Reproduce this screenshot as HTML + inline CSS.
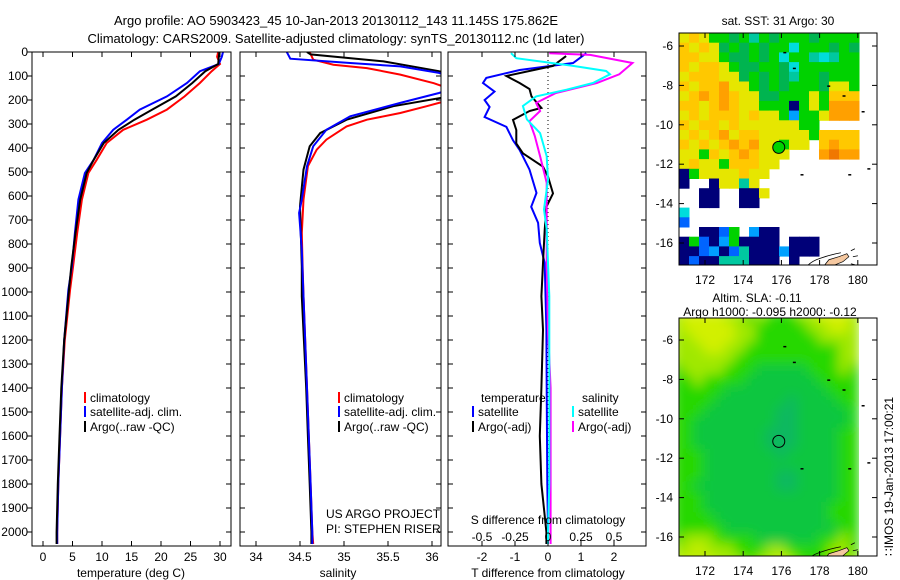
<!DOCTYPE html>
<html><head><meta charset="utf-8">
<style>
html,body{margin:0;padding:0;background:#fff;}
svg{display:block;font-family:"Liberation Sans",sans-serif;}
text{font-size:12px;fill:#000;}
</style></head>
<body>
<svg id="fig" width="900" height="580" viewBox="0 0 900 580">
<rect width="900" height="580" fill="#fff"/>
<text x="336" y="25" text-anchor="middle" style="font-size:13px">Argo profile: AO 5903423_45 10-Jan-2013 20130112_143 11.145S 175.862E</text>
<text x="336" y="43" text-anchor="middle" style="font-size:13px">Climatology: CARS2009. Satellite-adjusted climatology: synTS_20130112.nc (1d later)</text>
<defs>
<clipPath id="c1"><rect x="32" y="52" width="199" height="494"/></clipPath>
<clipPath id="c2"><rect x="240" y="52" width="201" height="494"/></clipPath>
<clipPath id="c3"><rect x="448" y="52" width="198" height="494"/></clipPath>
<clipPath id="cm1"><rect x="679" y="33" width="198" height="232"/></clipPath>
<clipPath id="cm2"><rect x="679" y="318" width="198" height="238"/></clipPath>
<clipPath id="cd2"><rect x="679" y="318" width="180" height="238"/></clipPath>
<filter id="blur" x="-5%" y="-5%" width="110%" height="110%"><feGaussianBlur stdDeviation="6"/></filter>
</defs>
<g id="layer"></g>
</svg>
<script>
// ---------- data ----------
const depthsT = [0,20,50,80,129,185,240,282,324,379,449,504,615,754,893,990,1200,1400,1600,1800,2000,2050];
const tempClim = [29.7,29.5,30.0,28.6,26.6,24.0,21.0,17.6,13.6,10.8,9.1,7.7,6.6,5.8,5.1,4.6,3.7,3.2,2.9,2.6,2.4,2.4];
const tempSat  = [30.5,30.3,29.8,26.6,24.4,21.0,16.4,14.2,11.9,10.0,8.6,7.1,6.0,5.4,4.9,4.3,3.6,3.2,2.9,2.6,2.4,2.4];
const tempArgo = [29.9,29.8,29.7,27.5,25.3,22.5,18.5,15.5,12.8,10.3,8.6,7.4,6.3,5.5,4.8,4.4,3.6,3.1,2.8,2.5,2.3,2.3];

const depthsSc = [0,32,53,67,94,130,165,200,226,254,282,310,365,407,476,615,754,893,1018,1400,1600,1800,2000,2050];
const salClim  = [34.61,34.65,34.88,35.26,35.64,36.02,36.3,36.2,35.94,35.64,35.26,35.03,34.80,34.69,34.59,34.54,34.52,34.53,34.54,34.58,34.60,34.62,34.64,34.65];
const depthsSs = [0,28,46,60,87,130,171,212,268,324,393,476,615,671,823,1018,1400,1600,1800,2000,2050];
const salSat   = [34.35,34.39,35.07,35.64,36.08,36.4,36.08,35.64,35.07,34.80,34.65,34.58,34.52,34.49,34.52,34.54,34.58,34.60,34.62,34.64,34.64];
const depthsSa = [0,10,39,80,130,185,226,282,338,393,490,643,893,1018,1400,1600,1800,2000,2050];
const salArgo  = [34.58,34.62,35.45,36.08,36.5,36.2,35.56,35.03,34.73,34.61,34.54,34.50,34.52,34.52,34.57,34.59,34.61,34.63,34.63];

const depthsDTs = [5,46,75,108,129,165,200,229,271,312,368,408,490,587,645,712,796,879,1158,1400,1600,1800,2000,2050];
const dTsat     = [1.16,0.76,-0.86,-1.87,-1.97,-1.62,-1.92,-1.77,-1.92,-1.26,-1.06,-0.86,-0.56,-0.35,-0.51,-0.30,-0.25,-0.10,-0.05,-0.04,-0.03,-0.02,0.0,0.0];
const depthsDTa = [17,58,100,129,154,185,233,246,283,325,381,422,478,519,589,645,742,879,1018,1158,1400,1600,1800,2000,2050];
const dTargo    = [0.55,0.15,-1.26,-0.86,-0.56,-0.5,-0.2,-0.56,-1.06,-0.96,-0.96,-0.76,-0.15,0.0,0.15,-0.05,-0.10,-0.15,-0.2,-0.15,-0.2,-0.25,-0.2,-0.05,-0.05];
const depthsDSs = [5,26,58,79,93,129,157,185,225,281,338,434,532,656,740,1018,1158,1400,1600,1800,2000,2050];
const dSsat     = [-0.28,-0.24,0.19,0.44,0.47,0.34,0.14,-0.09,-0.19,-0.16,-0.06,-0.01,0.0,-0.03,-0.01,0.01,0.01,0.01,0.01,0.01,0.0,0.0];
const depthsDSa = [5,12,46,93,129,171,212,246,288,350,434,545,629,879,1158,1400,1600,1800,2000,2050];
const dSargo    = [0.01,0.32,0.64,0.54,0.37,0.06,-0.09,-0.06,-0.14,-0.10,-0.06,-0.01,-0.01,-0.01,0.0,0.02,0.02,0.02,0.02,0.02];

const depthTicks = [0,100,200,300,400,500,600,700,800,900,1000,1100,1200,1300,1400,1500,1600,1700,1800,1900,2000];
const tempTicks = [0,5,10,15,20,25,30];
const salTicks = [34,34.5,35,35.5,36];
const salTickLabels = ["34","34.5","35","35.5","36"];
const dTTicks = [-2,-1,0,1,2];
const dSTicks = [-0.5,-0.25,0,0.25,0.5];
const lonTicks = [172,174,176,178,180];
const latTicks = [-6,-8,-10,-12,-14,-16];
const argoLon = 175.862, argoLat = -11.145;

const sstGrid = [
"yoyggGgtgGgggGgggg","oyoyGgGgGggcgggGgG","ooyygGGgGgcggtctgg","oyooygGGggGcgggggg",
"yoooyyGgGgGtggGggg","oyooOyygGgGgggGyyg","yoOoOoyyGGgggygooo","ooyoOoyygggngygOOO",
"yoyoooyoyyglggyOOO","oyooyoyyyyyyggwwww","yoyoOyooyyyyygoooo","oyoyoOoOyygyywoOoo",
"yygoyoOoyyywwwOROO","yoyygoooyywwwwwwww","ngyyyyoyywwwwwwwww","nwwnyytywwwwwwwwww",
"wwnnwwnnywwwwwwwww","wwnnwwnnwwwwwwwwww","cwwwwwwwwwwwwwwwww","bwwwwwwwwwwwwwwwww",
"wwnnbgwlnnwwwwwwww","ngbnlgnnnnwnnnwwww","nnblnbtnnnlnnnwwww","nbnntttnnnwnwwwwww"];
const slaGrid = [
"LYYYYLLgLgggLLYYYL","LYYYYYLLgggggLLYYL","LLYYYYLLggggggLLLL","LLLYYLLgggggggggLL",
"LLLLLLggggggggggLL","gLLLLgggGGGGGgggLg","ggLggggGGGGGGGgggg","gggggGGGGGGGGGGggg",
"ggggGGGGGGGTGGGGgg","gggGGGGGGGTTGGGGGg","ggGGGGGGGGTTGGGGGg","ggGGGGGGGTTTGGGGgg",
"ggGGGGGGGTTTGGGGgg","gggGGGGGGGTGGGGGgg","gggGGGGGGGGGGGGGgg","gggGGGGGGGTTGGGGgg",
"ggGGGGGGGGTTGGGGgg","gggGGGGGGGGGGGGGgg","gggGGGGGGGGGGGGggg","ggggGGGGGGGGGGGggg",
"gggggGGGGGGGGGGGgg","gLLLggggGGGGGGggLg","LLYLLLgggLLggggLLg","LYLYLLLgLLYLgggLLL"];

// ---------- helpers ----------
const NS="http://www.w3.org/2000/svg";
const layer=document.getElementById('layer');
function mk(tag,attrs,parent,txt){const e=document.createElementNS(NS,tag);for(const k in attrs)e.setAttribute(k,attrs[k]);if(txt!==undefined)e.textContent=txt;(parent||layer).appendChild(e);return e;}
const Y=d=>52+d*0.24;
const xT=t=>43+t*5.9;
const xS=s=>256+(s-34)*88;
const xDT=v=>548+v*33;
const xDS=v=>548+v*132;
const mLon=lon=>705+(lon-172)*19.1;
const mLat1=lat=>46+(-6-lat)*19.7;
const mLat2=lat=>340+(-6-lat)*19.7;

function line(ds,vs,fx,color,clip,name,w){
  const pts=ds.map((d,i)=>fx(vs[i]).toFixed(1)+','+Y(d).toFixed(1)).join(' ');
  const p=mk('polyline',{points:pts,fill:'none',stroke:color,'stroke-width':w||2,'clip-path':'url(#'+clip+')'});
  
  
}
function frame(x,y,w,h,name){
  const r=mk('rect',{x:x,y:y,width:w,height:h,fill:'none',stroke:'#000','stroke-width':1});
  
  
}
function legendItem(x,y,color,label,name){
  const g=mk('g',{});
  
  
  mk('rect',{x:x,y:y-10,width:2,height:11,fill:color},g);
  mk('text',{x:x+6,y:y},g,label);
}

// ---------- panel 1 ----------
line(depthsT,tempClim,xT,'#f00','c1','temp-climatology-line');
line(depthsT,tempSat,xT,'#00f','c1','temp-satellite-line');
line(depthsT,tempArgo,xT,'#000','c1','temp-argo-line');
// ---------- panel 2 ----------
line(depthsSc,salClim,xS,'#f00','c2','sal-climatology-line');
line(depthsSa,salArgo,xS,'#000','c2','sal-argo-line');
line(depthsSs,salSat,xS,'#00f','c2','sal-satellite-line');
// ---------- panel 3 ----------
{const z=mk('line',{x1:xDT(0),y1:52,x2:xDT(0),y2:546,stroke:'#000','stroke-width':1,'stroke-dasharray':'1,3'});

}
line(depthsDTs,dTsat,xDT,'#00f','c3','dT-satellite-line');
line(depthsDTa,dTargo,xDT,'#000','c3','dT-argo-line');
line(depthsDSa,dSargo,xDS,'#f0f','c3','dS-argo-line');
line(depthsDSs,dSsat,xDS,'#0ff','c3','dS-satellite-line');

frame(32,52,199,494,'temperature-panel-frame');
frame(240,52,201,494,'salinity-panel-frame');
frame(448,52,198,494,'difference-panel-frame');

// depth ticks
const ya=mk('g',{});


depthTicks.forEach(d=>{
  const y=Y(d);
  mk('text',{x:28,y:y+4,'text-anchor':'end'},ya,String(d));
  mk('line',{x1:27,y1:y,x2:32,y2:y,stroke:'#000'},ya);
  [[231,-5],[441,-5],[646,-5]].forEach(([x,dx])=>mk('line',{x1:x,y1:y,x2:x+dx,y2:y,stroke:'#000'},ya));
  mk('line',{x1:240,y1:y,x2:245,y2:y,stroke:'#000'},ya);
  mk('line',{x1:448,y1:y,x2:453,y2:y,stroke:'#000'},ya);
});
function xAxis(ticks,labels,fx,ly,name,top){
  const g=mk('g',{});
  
  
  ticks.forEach((t,i)=>{
    const x=fx(t);
    mk('text',{x:x,y:ly,'text-anchor':'middle'},g,labels[i]);
    mk('line',{x1:x,y1:546,x2:x,y2:541,stroke:'#000'},g);
    if(top) mk('line',{x1:x,y1:52,x2:x,y2:57,stroke:'#000'},g);
  });
}
xAxis(tempTicks,tempTicks.map(String),xT,561,'temperature-axis',true);
xAxis(salTicks,salTickLabels,xS,561,'salinity-axis',true);
xAxis(dTTicks,dTTicks.map(String),xDT,561,'t-difference-axis',true);
xAxis(dSTicks,dSTicks.map(String),xDS,541,'s-difference-axis',false);

mk('text',{x:131,y:577,'text-anchor':'middle',},null,'temperature (deg C)');
mk('text',{x:338,y:577,'text-anchor':'middle',},null,'salinity');
mk('text',{x:548,y:577,'text-anchor':'middle',},null,'T difference from climatology');
mk('text',{x:548,y:524,'text-anchor':'middle',},null,'S difference from climatology');
mk('text',{x:326,y:518,},null,'US ARGO PROJECT');
mk('text',{x:326,y:533,},null,'PI: STEPHEN RISER');

legendItem(84,402,'#f00','climatology','legend-climatology-1');
legendItem(84,416,'#00f','satellite-adj. clim.','legend-satellite-1');
legendItem(84,431,'#000','Argo(..raw -QC)','legend-argo-1');
legendItem(338,402,'#f00','climatology','legend-climatology-2');
legendItem(338,416,'#00f','satellite-adj. clim.','legend-satellite-2');
legendItem(338,431,'#000','Argo(..raw -QC)','legend-argo-2');
mk('text',{x:481,y:402,},null,'temperature');
mk('text',{x:582,y:402,},null,'salinity');
legendItem(472,416,'#00f','satellite','legend-dT-satellite');
legendItem(472,431,'#000','Argo(-adj)','legend-dT-argo');
legendItem(572,416,'#0ff','satellite','legend-dS-satellite');
legendItem(572,431,'#f0f','Argo(-adj)','legend-dS-argo');

// ---------- maps ----------
const colors={y:'#e6e600',o:'#ffc800',O:'#ffa000',R:'#f07800',g:'#00d200',G:'#00b450',t:'#00c8a0',c:'#00dcdc',n:'#000078',b:'#0064ff',l:'#00a0ff',w:'#ffffff',
  Y:'#d2f000',L:'#9ce800'};
const slaColors={Y:'#d2f000',L:'#a0e800',g:'#28d800',G:'#10c640',T:'#10b860'};
function drawGrid(grid,pal,x0,y0,cw,ch,parent){
  grid.forEach((row,r)=>{for(let c=0;c<row.length;c++){
    if(row[c]==='w')continue;
    mk('rect',{x:x0+c*cw,y:y0+r*ch,width:cw+0.5,height:ch+0.5,fill:pal[row[c]]||'#00c840'},parent);
  }});
}
function mapAxes(mLatF,top,bottom,name){
  const g=mk('g',{});
  
  
  latTicks.forEach(l=>{const y=mLatF(l);
    mk('text',{x:673,y:y+4,'text-anchor':'end'},g,String(l));
    mk('line',{x1:679,y1:y,x2:684,y2:y,stroke:'#000'},g);
    mk('line',{x1:877,y1:y,x2:872,y2:y,stroke:'#000'},g);});
  lonTicks.forEach(l=>{const x=mLon(l);
    mk('text',{x:x,y:bottom+19,'text-anchor':'middle'},g,String(l));
    mk('line',{x1:x,y1:bottom,x2:x,y2:bottom-5,stroke:'#000'},g);
    mk('line',{x1:x,y1:top,x2:x,y2:top+5,stroke:'#000'},g);});
}
function land(mLatF,parent){
  const x=mLon(178.8), y=mLatF(-16.9);
  mk('path',{d:`M${x-10},${y+4} L${x-6},${y-1} L${x+4},${y-4} L${x+12},${y-7} L${x+14},${y-4} L${x+8},${y+1} L${x-2},${y+5} Z`,fill:'#f5c8a0',stroke:'#000','stroke-width':0.7},parent);
  mk('path',{d:`M${x-34},${y+14} Q${x-28},${y+2} ${x-16},${y-2} Q${x-5},${y-6} ${x+6},${y-8} M${x-20},${y+10} Q${x-5},${y+12} ${x+10},${y+6} M${x+16},${y-10} l4,-2 M${x+18},${y-4} l5,-1 M${x+16},${y+3} l4,1`,fill:'none',stroke:'#000','stroke-width':0.8},parent);
  [[176.1,-6.3],[176.6,-7.1],[178.4,-8.0],[179.2,-8.5],[180.2,-9.3],[177.0,-12.5],[179.5,-12.5],[180.5,-12.2]].forEach(([lo,la])=>
    mk('rect',{x:mLon(lo),y:mLatF(la),width:3,height:1.5,fill:'#000'},parent));
}
const m1=mk('g',{'clip-path':'url(#cm1)'});


drawGrid(sstGrid,colors,679,33,10,9.7,m1);
land(mLat1,m1);
{const c=mk('circle',{cx:mLon(argoLon),cy:mLat1(argoLat),r:6,fill:'#00d200',stroke:'#000','stroke-width':1});

}
frame(679,33,198,232,'sst-map-frame');
mapAxes(mLat1,33,265,'sst-map-axes');
mk('text',{x:778,y:25,'text-anchor':'middle',},null,'sat. SST: 31  Argo: 30');

const m2=mk('g',{'clip-path':'url(#cm2)'});


const m2d=mk('g',{'clip-path':'url(#cd2)'},m2);
const m2b=mk('g',{filter:'url(#blur)'},m2d);
drawGrid(slaGrid,slaColors,672,311,10.4,10.6,m2b);
land(mLat2,m2);
{const c=mk('circle',{cx:mLon(argoLon),cy:mLat2(argoLat),r:6,fill:'none',stroke:'#000','stroke-width':1});

}
frame(679,318,198,238,'sla-map-frame');
mapAxes(mLat2,318,556,'sla-map-axes');
mk('text',{x:757,y:302,'text-anchor':'middle',},null,'Altim. SLA: -0.11');
mk('text',{x:770,y:316,'text-anchor':'middle',},null,'Argo h1000: -0.095 h2000: -0.12');
mk('text',{x:0,y:0,transform:'translate(893,556) rotate(-90)',},null,'\u2237IMOS 19-Jan-2013 17:00:21');
</script>
</body></html>
